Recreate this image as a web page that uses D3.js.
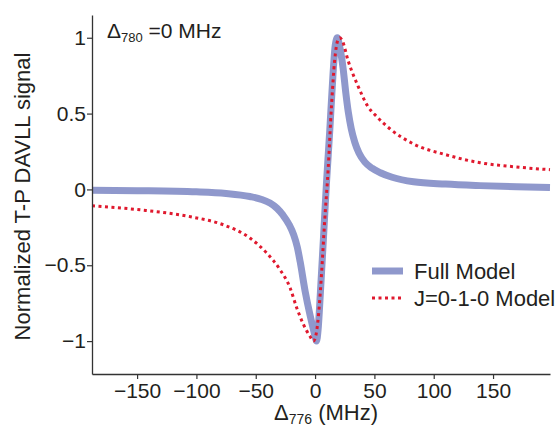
<!DOCTYPE html>
<html>
<head>
<meta charset="utf-8">
<script src="https://cdn.jsdelivr.net/npm/d3@7"></script>
<style>
  body { margin: 0; background: #fff; }
  text { font-family: "Liberation Sans", Arial, sans-serif; fill: #231f20; }
</style>
</head>
<body>
<div class="canvas"></div>
<script>
// Values
const fullDet = [-188, -150, -100, -75, -55, -45, -38, -32, -27, -22, -18, -15, -12.6, -8.4, -4.2, -1.5, 0, 1.2, 2.5, 4.5, 7, 9.6, 12.4, 15.2, 17, 18.8, 20.5, 23.6, 26, 28, 30.5, 33.5, 37, 42, 48, 55, 65, 83, 110, 139, 170, 198];
const fullSig = [-0.005, -0.008, -0.016, -0.027, -0.047, -0.066, -0.09, -0.125, -0.17, -0.23, -0.30, -0.38, -0.475, -0.67, -0.83, -0.92, -0.97, -1.0, -0.93, -0.68, -0.33, 0.04, 0.39, 0.77, 0.95, 1.0, 0.95, 0.80, 0.63, 0.51, 0.40, 0.31, 0.24, 0.18, 0.14, 0.11, 0.08, 0.05, 0.035, 0.025, 0.017, 0.012];

const j010Det = [-188, -147, -105, -77, -55, -40.7, -29.5, -21, -15.5, -9.8, -4.2, -1.4, 1, 3, 5.5, 8, 11, 13.8, 16.5, 19, 20.8, 23, 27.8, 36.3, 44.7, 52, 63, 83, 111, 139, 167, 198];
const j010Sig = [-0.108, -0.135, -0.18, -0.234, -0.32, -0.42, -0.53, -0.65, -0.78, -0.89, -0.97, -1.0, -0.95, -0.82, -0.55, -0.22, 0.13, 0.545, 0.85, 0.98, 1.0, 0.98, 0.85, 0.68, 0.545, 0.48, 0.40, 0.30, 0.227, 0.176, 0.15, 0.13];

const xTicks = [-150, -100, -50, 0, 50, 100, 150];
const yTicks = [-1, -0.5, 0, 0.5, 1];
const seriesNames = ['Full Model', 'J=0-1-0 Model'];

// Setup dimensions
const dims = { width: 559, height: 426 };
const margin = { top: 15, right: 9, bottom: 52, left: 92 };

const svg = d3.select('.canvas')
  .append('svg')
  .attr('width', dims.width)
  .attr('height', dims.height);

const x = d3.scaleLinear()
  .domain([-188, 198])
  .range([margin.left, dims.width - margin.right]);

const y = d3.scaleLinear()
  .domain([-1.217, 1.15])
  .range([dims.height - margin.bottom, margin.top]);

const line = d3.line()
  .x(d => x(d[0]))
  .y(d => y(d[1]))
  .curve(d3.curveMonotoneX);

const fullData = fullDet.map((d, i) => [d, fullSig[i]]);
const j010Data = j010Det.map((d, i) => [d, j010Sig[i]]);

const blue = '#8f98cc';
const red = '#e0192e';

// curves
svg.append('path')
  .datum(fullData)
  .attr('d', line)
  .attr('fill', 'none')
  .attr('stroke', blue)
  .attr('stroke-width', 7);

svg.append('path')
  .datum(j010Data)
  .attr('d', line)
  .attr('fill', 'none')
  .attr('stroke', red)
  .attr('stroke-width', 3)
  .attr('stroke-dasharray', '3,3.5');

// axes
const fmt = d3.format('');
const xAxis = d3.axisBottom(x)
  .tickValues(xTicks)
  .tickSize(5)
  .tickSizeOuter(0)
  .tickPadding(4)
  .tickFormat(d => fmt(d));

const yAxis = d3.axisLeft(y)
  .tickValues(yTicks)
  .tickSize(5)
  .tickSizeOuter(0)
  .tickPadding(1)
  .tickFormat(d => fmt(d));

const gx = svg.append('g')
  .attr('transform', `translate(0, ${dims.height - margin.bottom})`)
  .call(xAxis);

const gy = svg.append('g')
  .attr('transform', `translate(${margin.left}, 0)`)
  .call(yAxis);

[gx, gy].forEach(g => {
  g.select('.domain').attr('stroke', '#333').attr('stroke-width', 1.3);
  g.selectAll('.tick line').attr('stroke', '#333').attr('stroke-width', 1.2);
  g.selectAll('.tick text')
    .attr('font-family', '"Liberation Sans", Arial, sans-serif')
    .attr('font-size', 21)
    .attr('fill', '#231f20');
});

// axis titles
svg.append('text')
  .attr('transform', `translate(30, ${(y(1.15) + y(-1.217)) / 2 + 2}) rotate(-90)`)
  .attr('text-anchor', 'middle')
  .attr('font-size', 22)
  .text('Normalized T-P DAVLL signal');

const xt = svg.append('text')
  .attr('x', 326)
  .attr('y', 420)
  .attr('text-anchor', 'middle')
  .attr('font-size', 22);
xt.append('tspan').text('Δ');
xt.append('tspan').attr('font-size', 14).attr('dy', 4).text('776');
xt.append('tspan').attr('dy', -4).text(' (MHz)');

// annotation
const ann = svg.append('text')
  .attr('x', 107)
  .attr('y', 38)
  .attr('font-size', 21);
ann.append('tspan').text('Δ');
ann.append('tspan').attr('font-size', 13).attr('dy', 4).text('780');
ann.append('tspan').attr('dy', -4).text(' =0 MHz');

// legend
const legend = svg.append('g');
const legendRows = [
  { name: seriesNames[0], y: 271, stroke: blue, width: 7, dash: null },
  { name: seriesNames[1], y: 298, stroke: red, width: 3, dash: '3,3.5' }
];
legendRows.forEach(r => {
  legend.append('line')
    .attr('x1', 372).attr('x2', 403)
    .attr('y1', r.y).attr('y2', r.y)
    .attr('stroke', r.stroke)
    .attr('stroke-width', r.width)
    .attr('stroke-dasharray', r.dash);
  legend.append('text')
    .attr('x', 414)
    .attr('y', r.y + 8)
    .attr('font-size', 22)
    .text(r.name);
});
</script>
</body>
</html>
